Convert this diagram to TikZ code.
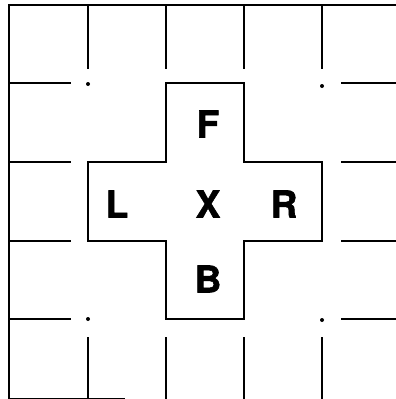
\documentclass[tikz,border=0pt]{standalone}
\usepackage{fontspec}
\newfontfamily\heavyfont{texgyreheros-bold.otf}[FakeBold=1.5]
\usetikzlibrary{positioning}

\begin{document}
\begin{tikzpicture}[x=1pt,y=-1pt,line width=1.5pt,
  letter/.style={inner sep=0pt,font=\fontsize{37}{37}\heavyfont}]
\useasboundingbox (0,0) rectangle (396,399);
% outer edges
\draw (396,5)--(9,5)--(9,399);
\draw[line width=1pt] (9,398)--(125,398);
% stubs of the grid
\foreach \x in {88,166,244,322} {
  \draw (\x,5)--(\x,69);
  \draw (\x,337)--(\x,399);
}
\foreach \y in {83,162,241,319} {
  \draw (9,\y)--(71,\y);
  \draw (341,\y)--(396,\y);
}
\foreach \p in {(88,84),(322,86),(88,319),(322,320)}
  \fill \p circle (2);
% the cross
\draw (166,83)--(244,83)--(244,162)--(322,162)--(322,241)--(244,241)
  --(244,319)--(166,319)--(166,241)--(88,241)--(88,162)--(166,162)--cycle;
\node[letter] (cross) at (208,204) {X};
\node[letter] (front) at (208,124) {F};
\node[letter] (back) at (208,279) {B};
\node[letter] (left) at (117,204) {L};
\node[letter] (right) at (284,204) {R};
\end{tikzpicture}
\end{document}
